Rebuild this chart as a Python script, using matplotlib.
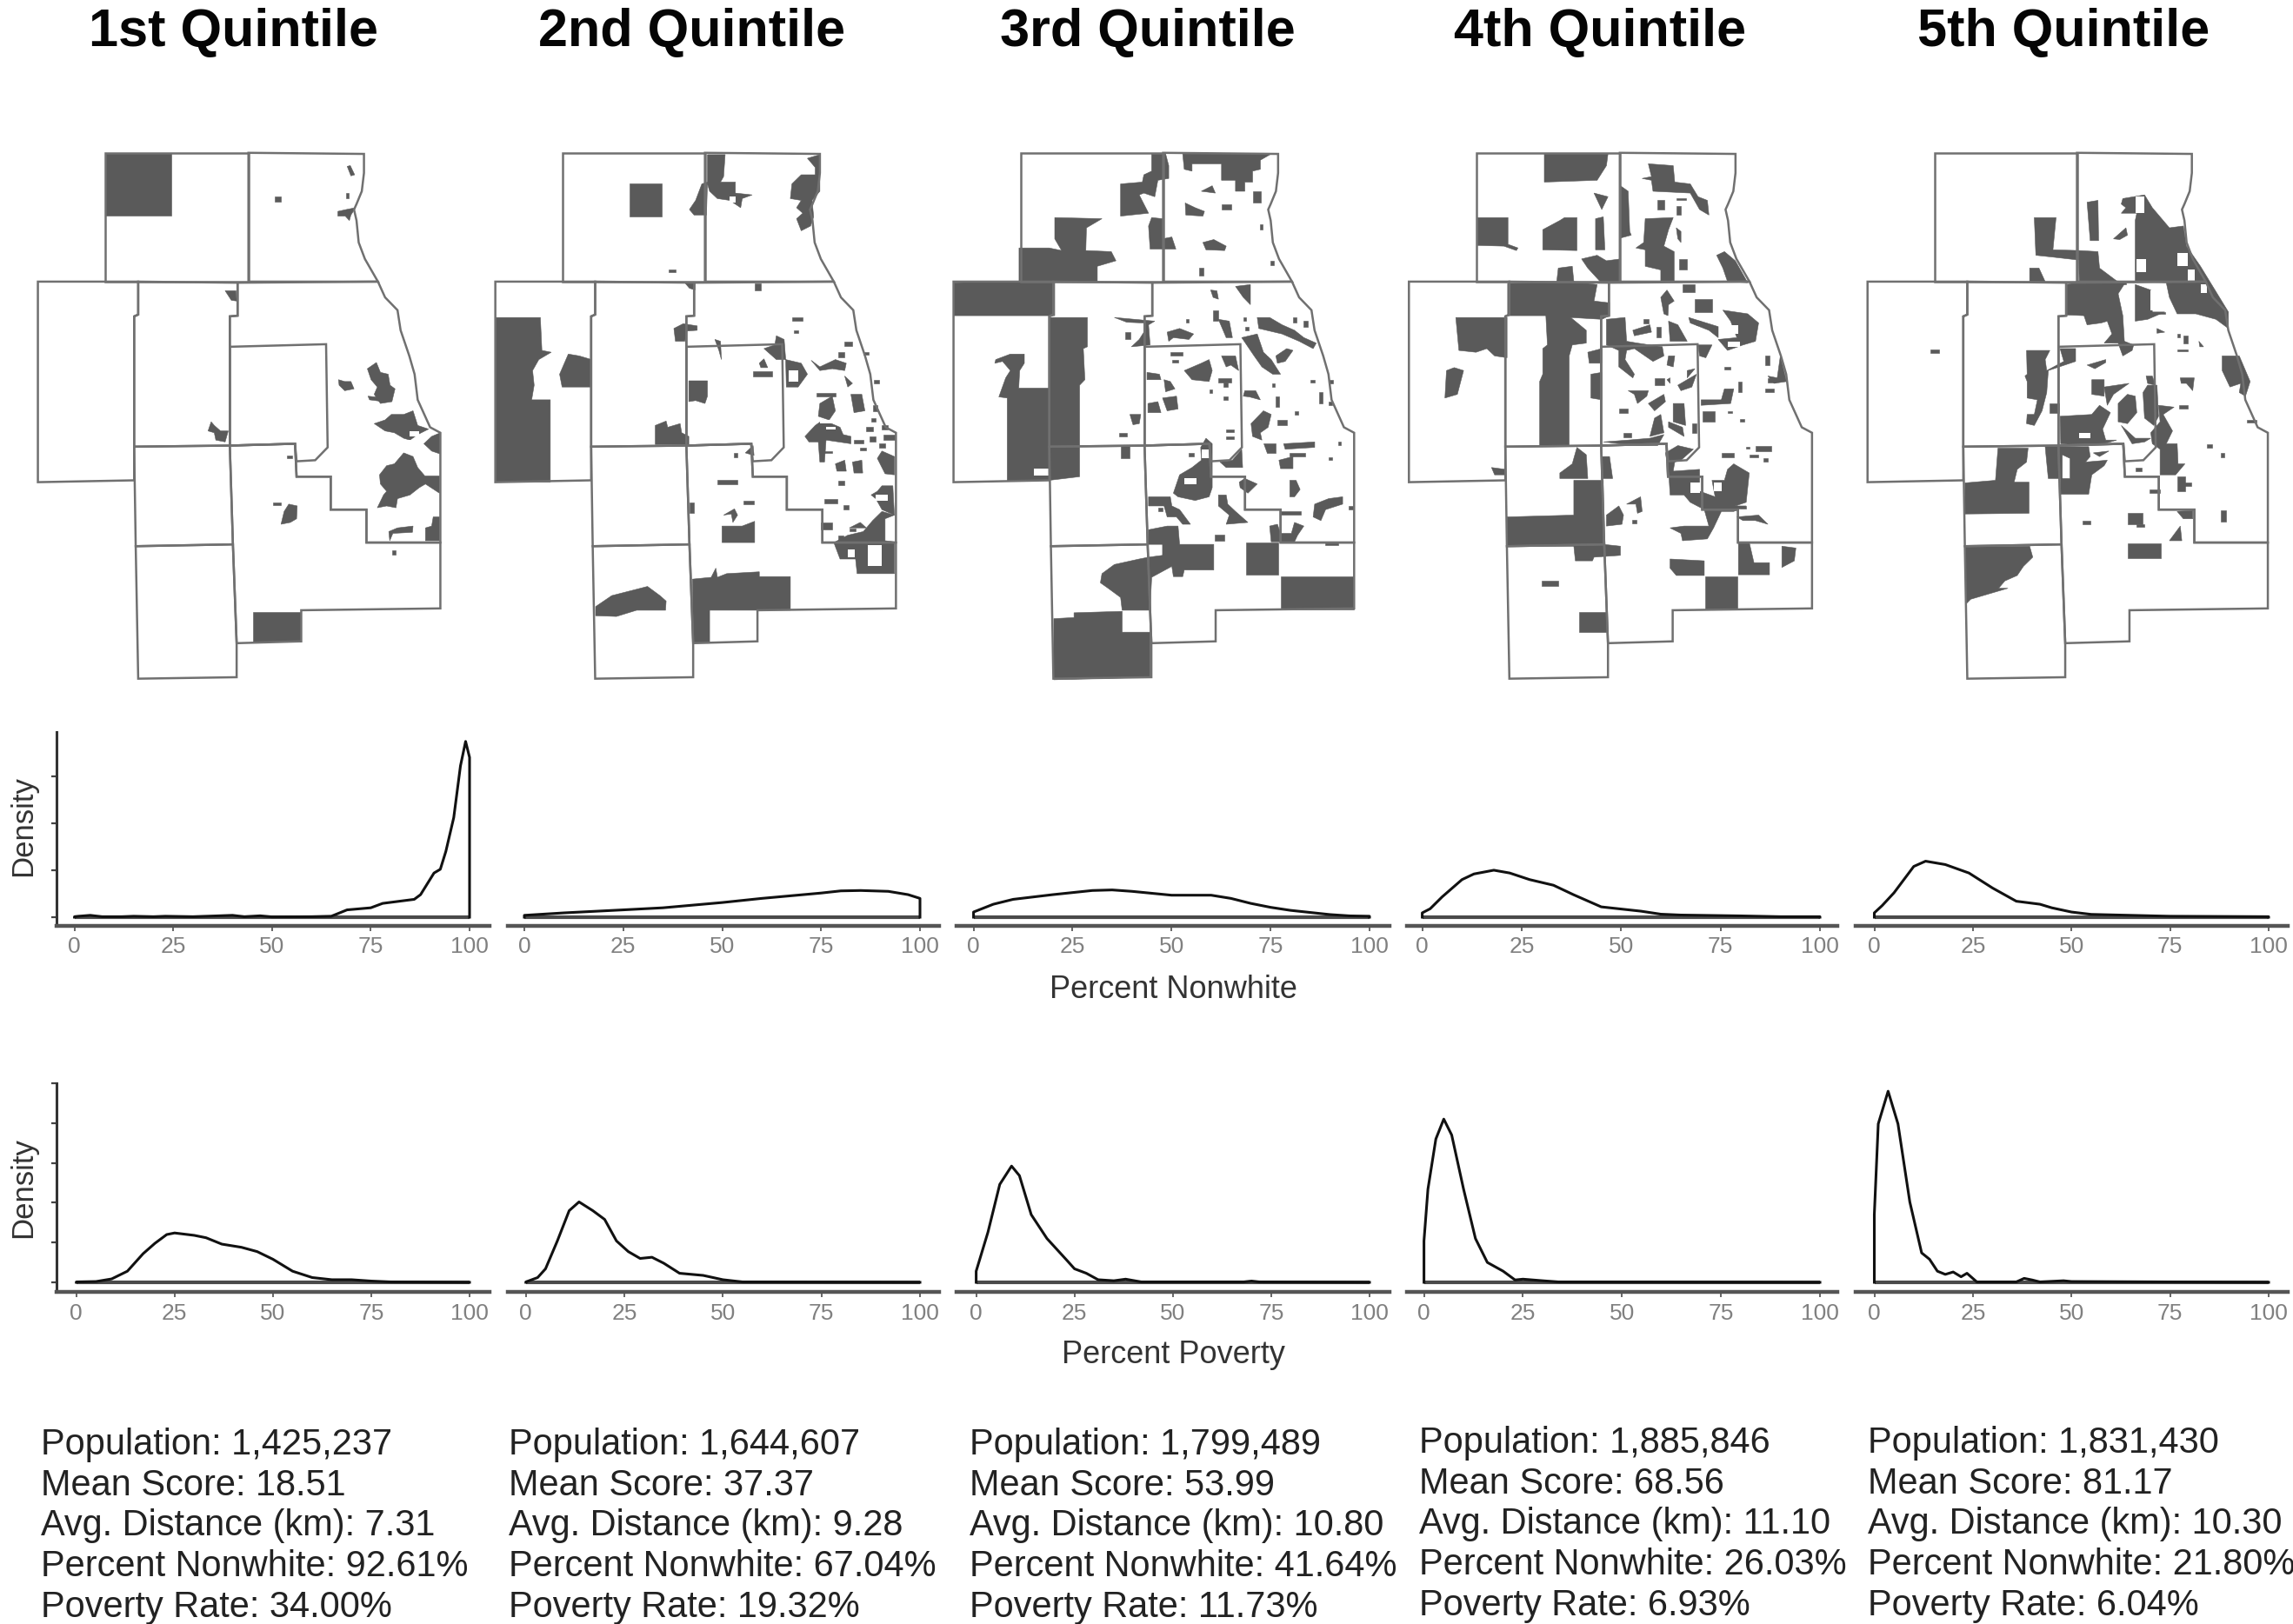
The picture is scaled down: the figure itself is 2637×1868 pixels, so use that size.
import matplotlib
matplotlib.use("Agg")
import matplotlib.pyplot as plt
from matplotlib.patches import Polygon, Rectangle

plt.rcParams['font.family'] = ['Liberation Sans', 'DejaVu Sans']

W, H = 2637, 1868
TITLES = ["1st Quintile", "2nd Quintile", "3rd Quintile", "4th Quintile", "5th Quintile"]
POPULATION = ["1,425,237", "1,644,607", "1,799,489", "1,885,846", "1,831,430"]
MEAN_SCORE = ["18.51", "37.37", "53.99", "68.56", "81.17"]
AVG_DIST = ["7.31", "9.28", "10.80", "11.10", "10.30"]
PCT_NONWHITE = ["92.61%", "67.04%", "41.64%", "26.03%", "21.80%"]
POVERTY = ["34.00%", "19.32%", "11.73%", "6.93%", "6.04%"]
XTICKS = [0, 25, 50, 75, 100]

# Density curves: (percent, density)
NW_X = [
    [0, 1, 4, 7, 12, 15, 20, 23, 30, 40, 43, 47, 50, 60, 65, 69, 75, 78, 86, 87.6, 91, 92.6, 94, 96, 97.7, 99, 100],
    [0, 10, 25, 35, 50, 60, 75, 80, 85, 92, 97, 100],
    [0, 5, 10, 20, 30, 35, 40, 50, 60, 65, 70, 75, 80, 90, 95, 100],
    [0, 2, 5, 10, 13, 18, 22, 27, 33, 38, 45, 50, 55, 60, 65, 80, 90, 100],
    [0, 2, 5, 10, 13, 18, 24, 30, 36, 42, 45, 50, 55, 65, 75, 100],
]
NW_Y = [
    [.0005, .001, .002, .0005, .0005, .001, .0005, .001, .0005, .002, .0005, .0015, .0003, .0005, .001, .0078, .01, .0147, .019, .024, .047, .051, .07, .106, .161, .187, .17],
    [.002, .0046, .0078, .01, .0156, .02, .0257, .028, .0284, .0275, .024, .02],
    [.0055, .0138, .019, .024, .0284, .029, .0275, .0234, .0234, .02, .0147, .0105, .0073, .0028, .0014, .001],
    [.0046, .009, .0216, .04, .046, .05, .047, .04, .034, .024, .011, .0087, .0064, .0032, .0023, .0014, .0005, .0005],
    [.0046, .0124, .026, .054, .0596, .056, .047, .031, .017, .0138, .01, .0055, .003, .002, .001, .0005],
]
POV_X = [
    [0, 5, 9, 13, 17, 20, 23, 25, 30, 33, 37, 42, 46, 50, 55, 60, 65, 70, 75, 80, 100],
    [0, 3, 5, 8, 11, 13.5, 17, 20, 23, 26, 29, 32, 35, 39, 45, 50, 55, 100],
    [0, 3, 6, 9, 11, 14, 18, 23, 25, 28, 31, 35, 38, 42, 68, 70, 72, 100],
    [0, 1, 3, 5, 7, 10, 13, 16, 20, 23, 25, 30, 34, 100],
    [0, 1, 3.5, 6, 9, 12, 14, 16, 18, 20, 22, 23.5, 26, 36, 38, 40, 42, 48, 50, 100],
]
POV_Y = [
    [.0005, .001, .0043, .014, .036, .049, .06, .062, .059, .056, .048, .044, .0386, .029, .014, .006, .0033, .0033, .0016, .0005, 0],
    [.0005, .006, .017, .052, .09, .101, .09, .079, .052, .0386, .03, .0315, .024, .0114, .0087, .0033, .0005, 0],
    [.014, .063, .123, .146, .134, .085, .055, .028, .017, .0114, .0033, .002, .004, .0005, .0005, .0016, .0005, 0],
    [.052, .117, .18, .205, .185, .117, .055, .025, .014, .003, .004, .002, .0005, 0],
    [.085, .199, .24, .199, .101, .037, .029, .014, .01, .013, .007, .0114, .0005, .0005, .005, .003, .0005, .002, .001, 0],
]

# County outlines, in map units
COUNTIES = [
    [(340,85),(800,85),(800,437),(340,437)],
    [(800,85),(1172,88),(1172,140),(1165,190),(1148,225),(1140,240),(1148,270),(1155,330),(1175,375),(1217,437),(800,437)],
    [(122,437),(445,437),(445,527),(432,532),(432,980),(122,985)],
    [(445,437),(765,440),(765,530),(740,532),(740,885),(432,888),(432,532),(445,527)],
    [(765,440),(1217,437),(1240,480),(1280,515),(1290,570),(1318,640),(1335,690),(1345,760),(1385,835),(1418,850),(1418,1150),(1180,1150),(1180,1060),(1065,1060),(1065,970),(955,970),(950,880),(740,885),(740,532),(765,530)],
    [(740,615),(1050,608),(1055,890),(1015,925),(955,928),(950,880),(740,885)],
    [(740,885),(950,880),(955,970),(1065,970),(1065,1060),(1180,1060),(1180,1150),(1418,1150),(1418,1330),(970,1335),(970,1420),(762,1425),(750,1155)],
    [(432,888),(740,885),(750,1155),(437,1160)],
    [(437,1160),(750,1155),(762,1425),(762,1518),(445,1522)],
]

Q1_RECTS = [(340,85,553,257),(815,1340,970,1420),(885,205,903,218),(1115,195,1124,208),(880,1040,905,1048),(925,913,940,920),(1262,1172,1274,1184)]
Q1_POLYS = [
    [(1183,675),(1212,658),(1225,685),(1250,690),(1256,720),(1272,730),(1262,765),(1225,770),(1205,745),(1215,725),(1195,705)],
    [(1205,825),(1240,815),(1260,800),(1300,800),(1330,790),(1345,830),(1380,840),(1345,855),(1320,870),(1300,865),(1270,850),(1240,845)],
    [(1365,880),(1390,860),(1418,850),(1418,908),(1390,900)],
    [(1215,1055),(1235,1020),(1245,1010),(1225,990),(1222,965),(1245,940),(1270,935),(1300,905),(1330,915),(1345,945),(1368,968),(1415,968),(1415,1015),(1370,990),(1350,1000),(1320,1020),(1280,1030),(1275,1055),(1245,1050)],
    [(1370,1110),(1390,1105),(1395,1080),(1415,1080),(1415,1145),(1370,1145)],
    [(905,1100),(915,1065),(930,1045),(957,1050),(955,1085),(935,1095)],
    [(680,820),(690,830),(710,845),(735,845),(725,875),(695,870),(690,850),(670,845)],
    [(725,462),(760,462),(762,490),(745,488)],
    [(1118,122),(1128,120),(1142,145),(1130,148)],
    [(1088,245),(1115,240),(1145,235),(1130,255),(1125,270),(1112,258),(1088,258)],
    [(1090,705),(1110,710),(1130,710),(1140,730),(1110,735),(1092,720)],
    [(1252,1120),(1280,1110),(1330,1105),(1328,1122),(1265,1125),(1255,1145)],
    [(1185,750),(1240,755),(1235,765),(1190,760)],
]
Q1_HOLES = [(1320,845,1350,860),(1300,870,1340,885),(1370,935,1375,940)]

Q2_RECTS = [(488,168,590,258),(612,403,635,412),(890,442,910,460),(1010,535,1045,545),(1015,570,1030,577),(885,683,945,695),(1090,742,1150,750),(1160,982,1180,992),(1115,1030,1155,1042),(1175,1048,1192,1060),(1102,1095,1140,1115),(770,978,835,990),(855,1035,888,1045),(680,1040,695,1068),(823,905,835,918),
    (1180,600,1205,612),(1160,630,1180,645),(1240,630,1258,636),(1275,705,1290,716),(1195,1112,1215,1118),(1160,1130,1175,1145),(1100,900,1140,905),(1250,835,1270,845),(1270,775,1285,790),(1265,810,1280,820),(1300,830,1320,840),(1230,890,1250,897),(1260,860,1280,875),(1305,855,1340,870),(1210,870,1240,880),(1290,880,1310,890)]
Q2_POLYS = [
    [(55,535),(200,535),(205,625),(235,630),(195,650),(175,680),(180,720),(172,760),(232,760),(232,985),(55,985)],
    [(262,690),(290,635),(325,640),(365,650),(365,725),(270,725)],
    [(738,90),(795,90),(790,150),(780,165),(828,165),(828,195),(882,200),(850,210),(845,235),(810,215),(770,210),(745,190),(738,170)],
    [(720,170),(738,165),(735,255),(695,255),(680,240),(700,215)],
    [(1060,100),(1100,90),(1100,190),(1075,215),(1080,260),(1070,285),(1040,298),(1025,265),(1045,250),(1025,235),(1040,215),(1005,210),(1010,170),(1040,145),(1085,145),(1085,125)],
    [(665,440),(698,440),(698,460),(680,455)],
    [(630,565),(660,552),(705,558),(705,570),(672,572),(665,600),(635,600)],
    [(678,708),(738,708),(738,750),(730,770),(700,762),(678,765)],
    [(570,830),(605,818),(610,835),(650,825),(655,850),(678,860),(678,882),(570,882)],
    [(920,620),(955,610),(960,585),(985,595),(990,650),(1040,660),(1060,690),(1030,725),(992,725),(990,650),(960,650)],
    [(905,660),(920,648),(932,672),(910,672)],
    [(762,595),(780,600),(783,650),(775,625)],
    [(1072,652),(1100,670),(1150,650),(1185,660),(1180,680),(1140,675),(1100,680)],
    [(1180,695),(1205,715),(1190,725)],
    [(1100,770),(1140,750),(1150,790),(1130,815),(1095,805)],
    [(1200,745),(1235,745),(1245,790),(1210,795)],
    [(1052,860),(1085,830),(1110,815),(1165,835),(1175,855),(1200,860),(1200,880),(1120,870),(1115,930),(1100,930),(1095,875),(1065,875)],
    [(1285,920),(1300,900),(1340,915),(1340,965),(1310,962)],
    [(1150,935),(1180,925),(1185,955),(1155,955)],
    [(1205,930),(1235,925),(1238,960),(1210,960)],
    [(1265,1020),(1285,1010),(1300,995),(1335,995),(1340,1075),(1300,1060),(1280,1030)],
    [(1145,1150),(1190,1130),(1240,1120),(1270,1090),(1300,1065),(1340,1075),(1310,1085),(1310,1145),(1340,1148),(1340,1235),(1220,1235),(1215,1195),(1165,1195)],
    [(690,1250),(750,1245),(765,1220),(770,1245),(800,1235),(905,1230),(905,1243),(1005,1243),(1005,1335),(745,1335),(745,1425),(692,1425)],
    [(785,1105),(850,1105),(890,1092),(890,1150),(785,1150)],
    [(378,1325),(430,1295),(545,1270),(585,1295),(605,1310),(603,1335),(510,1335),(445,1352),(378,1350)],
    [(790,1075),(825,1058),(835,1075),(820,1095),(815,1072)],
    [(860,905),(885,885),(888,912)],
    [(1195,1110),(1230,1095),(1250,1110)],
]
Q2_HOLES = [(810,205,830,220),(1000,680,1030,710),(1280,1020,1320,1035),(1190,1170,1212,1190),(1255,1158,1300,1215),(1100,815,1150,825),(1120,835,1150,840)]

Q3_RECTS = [(985,225,1015,240),(1085,190,1112,220),(912,398,928,420),(1142,380,1155,392),(1110,280,1118,295),(957,515,975,545),(675,575,692,595),(975,702,1015,712),(990,712,1005,725),(655,850,680,860),(660,885,690,920),(1165,815,1195,830),(1205,905,1255,915),(1395,1050,1410,1060),(1175,1065,1240,1075),(962,1128,995,1145),(1065,1150,1168,1238),(1177,1243,1410,1332),(1320,1150,1360,1158),
    (1055,535,1065,545),(1215,535,1225,548),(1250,545,1262,560),(870,540,880,548),(1060,560,1072,570),(820,630,860,640),(825,650,845,658),(1000,840,1025,848),(1000,860,1025,868),(945,732,955,742),(990,750,1005,760),(1160,750,1170,780),(1220,790,1232,800),(1148,715,1156,725),(1360,875,1370,884),(1330,918,1340,925),(1135,890,1150,900),(1230,880,1280,886),(1270,705,1285,712),(1300,740,1310,770),(1330,765,1340,775),(1330,705,1345,715),(880,905,895,915),(780,1055,795,1065)]
Q3_POLYS = [
    [(860,88),(1145,88),(1110,105),(1110,130),(1085,135),(1085,165),(1060,165),(1060,190),(1030,190),(1030,160),(985,160),(985,115),(890,115),(890,135),(865,130)],
    [(760,88),(805,88),(815,120),(815,155),(780,160),(770,205),(735,195),(720,200),(750,250),(660,258),(660,170),(730,165),(735,145),(760,135)],
    [(750,285),(760,262),(795,265),(795,320),(825,315),(838,348),(755,348)],
    [(333,345),(430,345),(470,352),(448,320),(448,262),(600,265),(550,290),(548,352),(630,355),(645,380),(585,395),(585,437),(448,437),(448,530),(122,530),(122,440),(333,437)],
    [(432,535),(553,535),(553,615),(540,620),(545,705),(528,720),(528,970),(430,980),(295,982),(295,755),(268,752),(290,700),(305,680),(280,655),(255,660),(258,650),(305,635),(350,635),(350,660),(335,680),(332,728),(430,728)],
    [(868,222),(900,235),(930,245),(925,258),(870,255)],
    [(920,190),(955,175),(965,195)],
    [(925,330),(960,322),(1000,340),(995,352),(935,350)],
    [(1030,450),(1078,445),(1078,500),(1055,480)],
    [(950,460),(970,462),(975,485),(958,480)],
    [(975,540),(1010,545),(1020,590),(1000,590)],
    [(640,535),(770,545),(750,555),(755,610),(695,615),(720,595),(735,575),(735,550),(680,548)],
    [(810,575),(850,565),(895,580),(880,595),(830,590),(815,600)],
    [(1100,535),(1140,535),(1180,555),(1220,570),(1250,590),(1290,605),(1280,620),(1235,600),(1180,580),(1105,565)],
    [(1050,590),(1100,580),(1120,630),(1145,650),(1175,690),(1150,690),(1115,670),(1090,640)],
    [(1160,640),(1195,620),(1215,625),(1190,655),(1165,660)],
    [(865,680),(920,660),(945,650),(955,680),(945,710),(890,705)],
    [(985,640),(1030,640),(1040,680),(1015,665),(1000,670)],
    [(745,685),(785,690),(790,705),(745,705)],
    [(800,705),(820,710),(835,730),(805,738)],
    [(748,770),(780,765),(790,795),(748,795)],
    [(795,755),(840,750),(845,785),(810,790)],
    [(690,800),(725,800),(720,825),(700,828)],
    [(1060,735),(1095,735),(1110,760),(1075,752),(1055,750)],
    [(1080,825),(1120,790),(1145,800),(1135,835),(1110,850),(1115,870),(1085,860)],
    [(1120,880),(1160,880),(1160,905),(1130,905)],
    [(1170,925),(1215,915),(1215,948),(1175,948)],
    [(1185,880),(1285,875),(1285,890),(1190,895)],
    [(1205,980),(1225,980),(1238,1005),(1220,1025),(1205,1025)],
    [(830,1015),(850,965),(890,945),(920,925),(918,890),(935,865),(955,880),(955,1000),(945,1025),(900,1035),(845,1025)],
    [(980,930),(1020,925),(1050,895),(1053,945),(1000,945)],
    [(1042,985),(1060,975),(1100,990),(1070,1015),(1045,1000)],
    [(975,1020),(1000,1020),(1005,1045),(1030,1065),(1070,1095),(1000,1100),(1010,1075),(975,1050)],
    [(750,1025),(820,1025),(825,1050),(850,1060),(885,1100),(860,1100),(840,1080),(810,1080),(800,1050),(750,1050)],
    [(1285,1045),(1330,1030),(1375,1025),(1375,1045),(1320,1060),(1305,1090),(1280,1080)],
    [(1140,1105),(1165,1100),(1175,1125),(1210,1125),(1220,1095),(1250,1105),(1230,1130),(1220,1148),(1145,1148)],
    [(750,1115),(810,1105),(845,1105),(850,1155),(960,1155),(960,1225),(865,1225),(860,1243),(830,1243),(825,1215),(760,1245),(755,1335),(665,1335),(660,1300),(620,1275),(595,1260),(600,1235),(640,1210),(720,1195),(750,1190),(795,1185),(795,1155),(750,1155)],
    [(445,1358),(510,1355),(510,1342),(665,1338),(665,1395),(755,1395),(755,1518),(445,1525)],
]
Q3_HOLES = [(380,948,428,968),(865,975,905,990),(922,895,945,920),(1130,630,1150,640)]

Q4_RECTS = [(925,215,945,240),(985,230,1000,255),(985,208,1015,215),(995,375,1020,405),(915,700,945,720),(800,785,830,795),(815,850,840,862),(1035,825,1050,850),(1130,905,1170,918),(1045,485,1100,520),(1005,445,1045,465),(1070,790,1110,820),(1185,710,1195,740),(1078,1243,1182,1332),(672,1340,762,1395),(552,1255,605,1268),(843,1088,858,1098),
    (1210,888,1220,893),(1240,885,1290,900),(1220,910,1250,918),(1265,920,1280,928),(1190,1050,1210,1057),(1150,790,1165,796),(1190,812,1205,820),(1140,670,1160,676),(1270,730,1300,738),(1180,560,1195,575),(1050,545,1060,555),(1170,565,1180,570),(1270,640,1285,665),(1280,700,1305,712),(880,540,895,550),(920,560,935,590)]
Q4_POLYS = [
    [(560,88),(765,88),(760,120),(730,160),(560,165)],
    [(345,262),(443,262),(443,335),(475,345),(470,352),(430,340),(345,338)],
    [(555,295),(610,270),(625,262),(665,262),(665,352),(555,350)],
    [(720,195),(765,205),(745,240)],
    [(725,265),(750,260),(755,350),(725,350)],
    [(805,175),(830,190),(835,300),(840,310),(805,318)],
    [(875,155),(905,150),(895,115),(975,120),(980,165),(1030,170),(1055,205),(1085,215),(1090,255),(1060,240),(1030,195),(910,190),(905,160)],
    [(885,265),(975,262),(960,295),(945,340),(978,355),(978,437),(935,437),(935,405),(885,395),(885,350),(855,345),(880,330)],
    [(985,290),(1000,300),(1000,330),(990,320)],
    [(1115,365),(1140,355),(1175,380),(1215,440),(1150,437),(1135,400)],
    [(680,375),(730,365),(760,380),(805,375),(805,437),(740,437),(700,400)],
    [(442,442),(600,437),(605,400),(650,395),(655,437),(730,445),(720,490),(770,495),(770,530),(745,540),(645,535),(695,570),(695,605),(650,610),(640,640),(640,885),(545,885),(545,710),(555,690),(555,620),(570,610),(565,530),(442,530)],
    [(275,535),(440,535),(440,645),(400,640),(375,620),(340,630),(285,625)],
    [(245,680),(270,672),(300,680),(280,745),(240,755)],
    [(760,540),(820,535),(825,600),(860,605),(940,615),(945,640),(910,655),(850,620),(825,625),(820,650),(850,690),(845,700),(800,670),(800,625),(760,610)],
    [(700,630),(745,620),(745,660),(705,660)],
    [(710,690),(745,685),(745,760),(710,755)],
    [(960,640),(980,640),(975,670),(955,665)],
    [(955,705),(965,700),(965,715)],
    [(1020,680),(1045,675),(1020,700)],
    [(990,720),(1050,690),(1035,725),(1000,735)],
    [(830,735),(895,735),(890,750),(860,770),(850,745)],
    [(895,770),(945,745),(950,765),(915,790)],
    [(975,770),(1010,770),(1015,830),(975,820)],
    [(915,810),(935,800),(945,850),(900,860)],
    [(960,820),(1005,835),(1010,860),(960,835)],
    [(750,875),(830,870),(900,865),(945,855),(925,885),(860,885)],
    [(950,905),(990,885),(1040,895),(1000,925),(980,930),(975,955),(1060,950),(1060,985),(1045,1005),(1110,1025),(1100,980),(1140,980),(1150,950),(1170,935),(1220,960),(1210,1040),(1175,1050),(1210,1050),(1170,1065),(1130,1065),(1105,1110),(1085,1140),(1005,1145),(1000,1125),(965,1110),(1010,1105),(1090,1105),(1075,1060),(1030,1040),(1010,1020),(965,1020),(960,950)],
    [(1180,1080),(1250,1075),(1280,1100),(1240,1090),(1200,1090)],
    [(610,960),(650,935),(665,890),(695,910),(700,975),(610,975)],
    [(745,915),(770,915),(780,975),(745,975)],
    [(655,980),(750,980),(750,1155),(805,1160),(805,1185),(720,1190),(715,1200),(660,1200),(655,1160),(440,1160),(440,1080),(655,1075)],
    [(760,1075),(800,1050),(815,1075),(810,1100),(760,1105)],
    [(825,1045),(870,1025),(875,1065),(860,1070),(855,1045)],
    [(390,945),(435,950),(435,965),(400,965)],
    [(1185,1150),(1220,1150),(1235,1205),(1285,1205),(1285,1238),(1185,1238)],
    [(1325,1160),(1370,1165),(1365,1200),(1325,1218)],
    [(965,1195),(1075,1200),(1075,1240),(985,1240),(965,1220)],
    [(935,480),(955,460),(978,490),(960,500),(958,530),(945,525)],
    [(960,545),(990,555),(1020,600),(965,600)],
    [(845,570),(900,555),(905,575),(850,585)],
    [(1025,535),(1120,560),(1120,590),(1090,570),(1030,550)],
    [(1135,515),(1215,525),(1250,550),(1240,600),(1200,610),(1150,625),(1120,595),(1180,590),(1160,545)],
    [(1055,610),(1100,610),(1080,645),(1060,640)],
    [(1065,760),(1130,760),(1140,730),(1170,730),(1160,770),(1065,775)],
    [(1280,695),(1310,700),(1320,640),(1340,710),(1300,715)],
]
Q4_HOLES = [(1030,985,1060,1015),(1105,985,1130,1010),(1150,600,1190,615),(1160,555,1185,580)]

Q5_RECTS = [(785,770,815,795),(1195,580,1205,590),(1215,585,1228,605),(1195,622,1228,628),(400,622,428,632),(1195,970,1220,1010),(1205,985,1240,995),(1105,1005,1140,1015),(1035,1068,1085,1100),(1065,1100,1090,1108),(1035,1152,1143,1192),(1335,1062,1352,1092),(1200,775,1230,785),(890,1090,915,1100),(1060,945,1080,955),(1420,815,1450,822),(1290,882,1308,892),(1335,905,1347,918),(1000,438,1030,445),(1130,520,1155,525)]
Q5_POLYS = [
    [(735,262),(805,262),(795,350),(880,352),(940,355),(945,400),(1000,435),(1030,437),(1005,470),(1020,530),(1025,600),(1055,610),(1050,625),(1020,640),(1005,605),(960,605),(985,580),(970,545),(950,550),(905,555),(895,530),(838,528),(838,445),(880,437),(878,378),(795,370),(740,365)],
    [(905,220),(940,215),(942,325),(915,325)],
    [(720,400),(750,400),(770,437),(720,437)],
    [(1020,210),(1090,200),(1115,235),(1170,290),(1215,285),(1225,340),(1270,395),(1360,520),(1360,565),(1320,540),(1255,525),(1195,525),(1170,480),(1160,440),(1060,437),(1060,270),(1065,250),(1015,250),(1030,235),(1015,225)],
    [(990,320),(1030,290),(1035,310),(1010,322)],
    [(1060,445),(1110,460),(1115,520),(1155,520),(1100,540),(1060,545)],
    [(1130,565),(1155,575),(1130,578)],
    [(1265,600),(1280,615),(1268,615)],
    [(710,625),(785,625),(770,650),(775,680),(830,655),(818,620),(868,620),(868,655),(780,680),(775,740),(760,790),(735,830),(710,825),(712,800),(735,800),(745,760),(712,755),(712,710),(705,695),(712,690)],
    [(905,665),(965,650),(965,658),(930,675)],
    [(920,705),(960,705),(960,750),(920,745)],
    [(818,805),(920,800),(945,775),(980,795),(955,840),(965,870),(1000,870),(960,880),(900,885),(820,880)],
    [(960,725),(1040,715),(990,745),(970,775)],
    [(1005,770),(1035,745),(1060,750),(1065,795),(1035,825),(1005,820)],
    [(1085,740),(1100,720),(1130,720),(1135,805),(1120,830),(1090,810)],
    [(1095,695),(1115,695),(1125,720),(1100,715)],
    [(1135,775),(1185,780),(1150,800),(1180,845),(1160,880),(1195,880),(1198,935),(1220,935),(1190,965),(1140,965),(1140,895),(1115,880),(1110,850),(1140,820)],
    [(1015,830),(1060,865),(1110,865),(1090,875),(1050,880)],
    [(770,888),(910,888),(915,915),(900,930),(970,925),(960,940),(920,965),(910,1018),(820,1018),(820,975),(850,975),(850,920),(825,910),(825,975),(780,975)],
    [(925,905),(975,900),(945,915)],
    [(618,892),(715,892),(710,930),(680,950),(670,985),(718,985),(718,1070),(512,1072),(512,987),(610,980)],
    [(512,1162),(720,1160),(730,1190),(700,1215),(680,1240),(640,1255),(620,1275),(650,1275),(590,1290),(530,1305),(515,1318)],
    [(1170,1145),(1205,1105),(1210,1145)],
    [(1195,1065),(1245,1062),(1245,1085),(1215,1085)],
    [(1205,700),(1250,700),(1245,735),(1225,715),(1208,715)],
    [(1340,640),(1395,640),(1430,710),(1415,750),(1395,740),(1400,715),(1365,725),(1340,680)],
]
Q5_HOLES = [(1060,205,1090,250),(1065,375,1095,410),(1195,358,1230,395),(1228,405,1252,435),(1272,445,1292,468),(880,850,915,865),(1110,460,1160,515)]

ALL_RECTS = [Q1_RECTS, Q2_RECTS, Q3_RECTS, Q4_RECTS, Q5_RECTS]
ALL_POLYS = [Q1_POLYS, Q2_POLYS, Q3_POLYS, Q4_POLYS, Q5_POLYS]
ALL_HOLES = [Q1_HOLES, Q2_HOLES, Q3_HOLES, Q4_HOLES, Q5_HOLES]

# Layout in pixels of the picture
MAP_X0 = [0, 550, 1053, 1576, 2077]
MAP_W, MAP_H, MAP_TOP = 560, 660, 140
MAP_SPAN = [(122,1418),(55,1345),(122,1412),(124,1422),(198,1487)]
AX_L = [64.5, 583.7, 1100, 1618, 2134]
AX_R = [562.6, 1080, 1598, 2113, 2631]
T0_R1 = [85.6, 603, 1119.6, 1635.6, 2155.5]
T0_R2 = [87.7, 604.7, 1122.6, 1637.6, 2155.5]
T100 = [540, 1058, 1575, 2093, 2609]
TITLE_X = [269, 796, 1320, 1840, 2373]
TEXT_X = [47, 585, 1115, 1632, 2148]
TEXT_Y = [1662, 1662, 1662, 1660, 1660]
LINE_STEP = 46.7

FILL = '#5a5a5a'
OUTLINE = '#707070'
fig = plt.figure(figsize=(W/100, H/100), dpi=100, facecolor='white')


def px_axes(left, top, right, bottom):
    return fig.add_axes([left/W, 1-bottom/H, (right-left)/W, (bottom-top)/H])


for c in range(5):
    ax = px_axes(MAP_X0[c], MAP_TOP, MAP_X0[c]+MAP_W, MAP_TOP+MAP_H)
    ax.set_xlim(0, 1568)
    ax.set_ylim(1568, 0)
    ax.axis('off')
    for (x0, y0, x1, y1) in ALL_RECTS[c]:
        ax.add_patch(Rectangle((x0, y0), x1-x0, y1-y0, fc=FILL, ec=FILL, lw=0.4))
    for pts in ALL_POLYS[c]:
        ax.add_patch(Polygon(pts, closed=True, fc=FILL, ec=FILL, lw=0.4))
    for (x0, y0, x1, y1) in ALL_HOLES[c]:
        ax.add_patch(Rectangle((x0, y0), x1-x0, y1-y0, fc='white', ec='none'))
    a, b = MAP_SPAN[c]
    k = (b-a)/(1418-122)
    for county in COUNTIES:
        pts = [(a+(x-122)*k, y) for x, y in county]
        ax.add_patch(Polygon(pts, closed=True, fill=False, ec=OUTLINE, lw=1.8, joinstyle='miter'))


def density(c, X, Y, t0, top, bottom, y0, ymax, yticks):
    ax = px_axes(AX_L[c], top, AX_R[c], bottom)
    sc = 100/(T100[c]-t0)
    ax.set_xlim((AX_L[c]-t0)*sc, (AX_R[c]-t0)*sc)
    ax.set_ylim(-(bottom-y0)/(y0-top)*ymax, ymax)
    xs = [X[0]] + X + [X[-1]]
    ys = [0] + Y + [0]
    ax.plot([0, 100], [0, 0], color='#4a4a4a', lw=3.0, solid_capstyle='butt')
    ax.plot(xs, ys, color='#111111', lw=2.2, solid_joinstyle='round')
    for s in ['top', 'right']:
        ax.spines[s].set_visible(False)
    ax.spines['bottom'].set_color('#555555')
    ax.spines['bottom'].set_linewidth(3.2)
    ax.set_xticks(XTICKS)
    ax.set_xticklabels([str(v) for v in XTICKS])
    ax.tick_params(axis='x', length=4, width=1.4, color='#666666', labelcolor='#808080', labelsize=19, pad=5)
    if c == 0:
        ax.spines['left'].set_color('#333333')
        ax.spines['left'].set_linewidth(2.2)
        ax.set_yticks(yticks)
        ax.set_yticklabels([])
        ax.tick_params(axis='y', length=4, width=1.6, color='#444444')
    else:
        ax.spines['left'].set_visible(False)
        ax.set_yticks([])
    ax.patch.set_alpha(0)


for c in range(5):
    density(c, NW_X[c], NW_Y[c], T0_R1[c], 842, 1065, 1055, 0.197, [0, .05, .1, .15])
    density(c, POV_X[c], POV_Y[c], T0_R2[c], 1246, 1486, 1475, 0.25, [0, .05, .1, .15, .2, .25])

for c in range(5):
    fig.text(TITLE_X[c]/W, 1-38/H, TITLES[c], ha='center', va='center', fontsize=44, fontweight='bold', color='#050505')
    lines = [f"Population: {POPULATION[c]}", f"Mean Score: {MEAN_SCORE[c]}",
             f"Avg. Distance (km): {AVG_DIST[c]}", f"Percent Nonwhite: {PCT_NONWHITE[c]}",
             f"Poverty Rate: {POVERTY[c]}"]
    for i, s in enumerate(lines):
        fig.text(TEXT_X[c]/W, 1-(TEXT_Y[c]+i*LINE_STEP)/H, s, ha='left', va='center', fontsize=29.9, color='#222222')

fig.text(1349/W, 1-1138/H, "Percent Nonwhite", ha='center', va='center', fontsize=26, color='#333333')
fig.text(1349/W, 1-1558/H, "Percent Poverty", ha='center', va='center', fontsize=26, color='#333333')
fig.text(27/W, 1-950/H, "Density", rotation=90, ha='center', va='center', fontsize=25, color='#333333')
fig.text(27/W, 1-1366/H, "Density", rotation=90, ha='center', va='center', fontsize=25, color='#333333')

fig.savefig('out.png', dpi=100)
